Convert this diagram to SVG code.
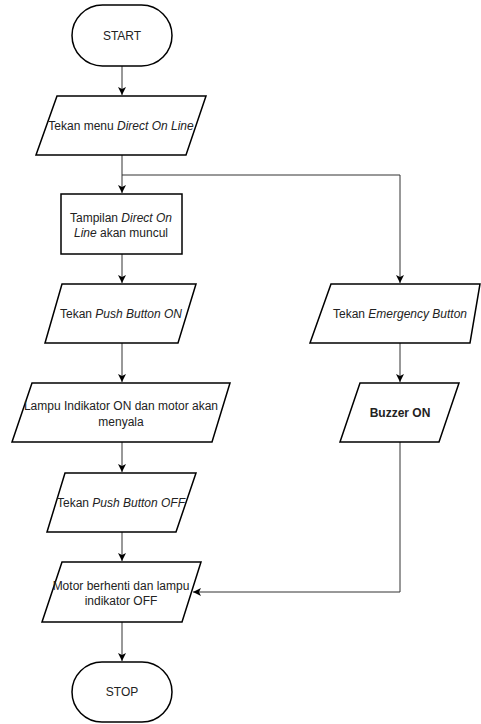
<svg xmlns="http://www.w3.org/2000/svg" width="481" height="724" viewBox="0 0 481 724">
<style>
.s{fill:#fff;stroke:#000;stroke-width:1.5}
.t{font-family:"Liberation Sans",Arial,sans-serif;font-size:12px;fill:#222;text-anchor:middle}
.b{font-weight:bold}
.i{font-style:italic}
.c{fill:none;stroke:#333;stroke-width:1}
</style>
<defs>
<marker id="a" markerWidth="10" markerHeight="10" refX="8" refY="4" orient="auto" markerUnits="userSpaceOnUse">
<path d="M0,0 L8,4 L0,8 L2,4 Z" fill="#000"/>
</marker>
</defs>
<rect width="481" height="724" fill="#fff"/>
<g id="connectors">
<path class="c" d="M122,66 V95" marker-end="url(#a)"/>
<path class="c" d="M122,155 V193" marker-end="url(#a)"/>
<path class="c" d="M122,175 H400 V283" marker-end="url(#a)"/>
<path class="c" d="M122,254 V283" marker-end="url(#a)"/>
<path class="c" d="M122,343 V382" marker-end="url(#a)"/>
<path class="c" d="M122,442 V472" marker-end="url(#a)"/>
<path class="c" d="M122,532 V561" marker-end="url(#a)"/>
<path class="c" d="M122,622 V661" marker-end="url(#a)"/>
<path class="c" d="M400,343 V382" marker-end="url(#a)"/>
<path class="c" d="M400,442 V592 H193" marker-end="url(#a)"/>
</g>
<g id="start">
<rect class="s" x="72" y="5" width="100" height="61" rx="30.5" ry="30.5"/>
<text class="t" x="122" y="40">START</text>
</g>
<g id="n1">
<path class="s" d="M57,96 H206 L186,155 H36 Z"/>
<text class="t" x="121" y="130">Tekan menu <tspan class="i">Direct On Line</tspan></text>
</g>
<g id="n2">
<rect class="s" x="61" y="194" width="121" height="60"/>
<text class="t" x="121" y="222">Tampilan <tspan class="i">Direct On</tspan></text>
<text class="t" x="121" y="237"><tspan class="i">Line</tspan> akan muncul</text>
</g>
<g id="n3">
<path class="s" d="M62,284 H196 L178,343 H45 Z"/>
<text class="t" x="121" y="318">Tekan <tspan class="i">Push Button ON</tspan></text>
</g>
<g id="n4">
<path class="s" d="M32,383 H230 L212,442 H12 Z"/>
<text class="t" x="121" y="410">Lampu Indikator ON dan motor akan</text>
<text class="t" x="121" y="426">menyala</text>
</g>
<g id="n5">
<path class="s" d="M65,473 H196 L176,532 H47 Z"/>
<text class="t" x="121" y="507">Tekan <tspan class="i">Push Button OFF</tspan></text>
</g>
<g id="n6">
<path class="s" d="M62,562 H201 L182,622 H42 Z"/>
<text class="t" x="121" y="590">Motor berhenti dan lampu</text>
<text class="t" x="121" y="605">indikator OFF</text>
</g>
<g id="stop">
<rect class="s" x="72" y="662" width="100" height="60" rx="30" ry="30"/>
<text class="t" x="122" y="696">STOP</text>
</g>
<g id="n7">
<path class="s" d="M331,284 H480 L470,343 H310 Z"/>
<text class="t" x="400" y="318">Tekan <tspan class="i">Emergency Button</tspan></text>
</g>
<g id="n8">
<path class="s" d="M360,383 H459 L439,442 H340 Z"/>
<text class="t b" x="400" y="417">Buzzer ON</text>
</g>
</svg>
